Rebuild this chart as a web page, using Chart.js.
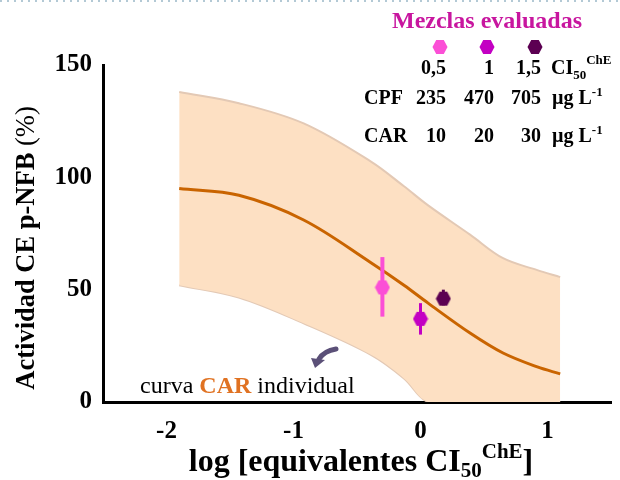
<!DOCTYPE html>
<html>
<head>
<meta charset="utf-8">
<script src="https://cdn.jsdelivr.net/npm/chart.js@4.4.1/dist/chart.umd.min.js"></script>
<style>
  body { margin: 0; background: #fff; }
  #wrap { width: 620px; height: 480px; }
</style>
</head>
<body>
<div id="wrap"><canvas id="chart"></canvas></div>
<script>
// Curva CAR individual (log equivalentes CI50) con banda de confianza
var bandX    = [-1.9, -1.43, -0.92, -0.39, -0.13, 0.06, 0.39, 0.65, 0.92, 1.1];
var curveCAR = [95, 92, 81, 62, 52, 44, 30.7, 21.8, 15.6, 12.5];
var upperCI  = [138, 133, 124, 107, 96, 87.5, 74.5, 64, 58.7, 55.6];
var lowerCI  = [52, 46.5, 35, 21, 10.5, 0, 0, 0, 0, 0];

// Mezclas evaluadas (0,5 / 1 / 1,5 CI50)
var mixLabels = ["0,5", "1", "1,5"];
var mixCPF    = ["235", "470", "705"];
var mixCAR    = ["10", "20", "30"];
var mixX      = [-0.30, 0.0, 0.18];
var mixY      = [51, 37, 46];
var mixErrLo  = [38, 30, 43];
var mixErrHi  = [64.5, 44, 50];
var mixColors = ["#fb4fd6", "#c300c3", "#5c0052"];

var xTicks = [-2, -1, 0, 1];
var yTicks = [0, 50, 100, 150];

var SERIF = '"Liberation Serif", "Times New Roman", serif';

function hexCanvas(color) {
  var c = document.createElement("canvas");
  c.width = 16; c.height = 16;
  var g = c.getContext("2d");
  g.fillStyle = color;
  g.beginPath();
  g.moveTo(0.5, 8); g.lineTo(4.2, 1); g.lineTo(11.8, 1);
  g.lineTo(15.5, 8); g.lineTo(11.8, 15); g.lineTo(4.2, 15);
  g.closePath();
  g.fill();
  return c;
}

function pts(xs, ys) {
  return xs.map(function (x, i) { return { x: x, y: ys[i] }; });
}

// draws a run of text pieces: [text, font, dy, color]
function richText(ctx, parts, x, y, align) {
  var total = 0;
  parts.forEach(function (p) { ctx.font = p[1]; total += ctx.measureText(p[0]).width; });
  var cx = align === "center" ? x - total / 2 : (align === "right" ? x - total : x);
  ctx.textAlign = "left";
  ctx.textBaseline = "alphabetic";
  parts.forEach(function (p) {
    ctx.font = p[1];
    ctx.fillStyle = p[3] || "#000";
    ctx.fillText(p[0], cx, y + (p[2] || 0));
    cx += ctx.measureText(p[0]).width;
  });
}

var datasets = [
  { data: pts(bandX, lowerCI), showLine: true, borderColor: "#e3c9b5", borderWidth: 2,
    pointRadius: 0, fill: false, tension: 0.35, order: 4 },
  { data: pts(bandX, upperCI), showLine: true, borderColor: "#e3c9b5", borderWidth: 2,
    backgroundColor: "#fde0c3", pointRadius: 0, fill: "-1", tension: 0.35, order: 3 },
  { data: pts(bandX, curveCAR), showLine: true, borderColor: "#c96400", borderWidth: 3,
    pointRadius: 0, fill: false, tension: 0.35, order: 2 }
];
mixX.forEach(function (x, i) {
  datasets.push({ data: [{ x: x, y: mixY[i] }], pointStyle: hexCanvas(mixColors[i]),
    pointRadius: 8, errIdx: i, order: 1 });
});

var errorBars = {
  id: "errorBars",
  beforeDatasetDraw: function (chart, args) {
    var ds = chart.data.datasets[args.index];
    if (ds.errIdx === undefined) return;
    var i = ds.errIdx;
    var ctx = chart.ctx, xs = chart.scales.x, ys = chart.scales.y;
    var px = xs.getPixelForValue(mixX[i]);
    ctx.save();
    ctx.strokeStyle = mixColors[i];
    ctx.lineWidth = i === 0 ? 4 : 3;
    ctx.beginPath();
    ctx.moveTo(px, ys.getPixelForValue(mixErrLo[i]));
    ctx.lineTo(px, ys.getPixelForValue(mixErrHi[i]));
    ctx.stroke();
    ctx.restore();
  }
};

var labels = {
  id: "labels",
  afterDraw: function (chart) {
    var ctx = chart.ctx;
    var B = "bold ";
    ctx.save();
    // dotted frame line at the top
    ctx.strokeStyle = "#9ab8c8";
    ctx.lineWidth = 1.5;
    ctx.setLineDash([2, 5]);
    ctx.beginPath(); ctx.moveTo(0, 1); ctx.lineTo(620, 1); ctx.stroke();
    ctx.setLineDash([]);
    // y title
    ctx.save();
    ctx.translate(34, 248);
    ctx.rotate(-Math.PI / 2);
    richText(ctx, [["Actividad CE p-NFB ", B + "26.5px " + SERIF], ["(%)", "26.5px " + SERIF]], 0, 0, "center");
    ctx.restore();
    // x title
    richText(ctx, [["log [equivalentes CI", B + "32px " + SERIF],
                   ["50", B + "21px " + SERIF, 6],
                   ["ChE", B + "21px " + SERIF, -13],
                   ["]", B + "32px " + SERIF]], 361, 471, "center");
    // legend
    richText(ctx, [["Mezclas evaluadas", B + "24px " + SERIF, 0, "#c8169f"]], 487, 28, "center");
    var hx = [440, 487, 535];
    hx.forEach(function (x, i) { ctx.drawImage(hexCanvas(mixColors[i]), x - 8, 39); });
    var colR = [446, 494, 541];
    var f18 = B + "20px " + SERIF, f12 = B + "13px " + SERIF;
    colR.forEach(function (x, i) {
      richText(ctx, [[mixLabels[i], f18]], x, 74, "right");
      richText(ctx, [[mixCPF[i], f18]], x, 104, "right");
      richText(ctx, [[mixCAR[i], f18]], x, 142, "right");
    });
    richText(ctx, [["CI", f18], ["50", f12, 5], ["ChE", f12, -10]], 551, 74, "left");
    richText(ctx, [["CPF", f18]], 364, 104, "left");
    richText(ctx, [["CAR", f18]], 364, 142, "left");
    richText(ctx, [["\u00b5g L", f18], ["-1", f12, -8]], 552, 104, "left");
    richText(ctx, [["\u00b5g L", f18], ["-1", f12, -8]], 552, 142, "left");
    // annotation
    richText(ctx, [["curva ", "24px " + SERIF], ["CAR", B + "24px " + SERIF, 0, "#e07222"],
                   [" individual", "24px " + SERIF]], 140, 393, "left");
    // arrow
    ctx.strokeStyle = "#5b5078";
    ctx.fillStyle = "#5b5078";
    ctx.lineWidth = 5;
    ctx.lineCap = "round";
    ctx.beginPath();
    ctx.moveTo(336, 349);
    ctx.quadraticCurveTo(324, 351, 319, 359);
    ctx.stroke();
    ctx.beginPath();
    ctx.moveTo(311, 358);
    ctx.lineTo(325, 360);
    ctx.lineTo(315, 368);
    ctx.closePath();
    ctx.fill();
    ctx.restore();
  }
};

new Chart(document.getElementById("chart").getContext("2d"), {
  type: "scatter",
  data: { datasets: datasets },
  plugins: [errorBars, labels],
  options: {
    responsive: true,
    maintainAspectRatio: false,
    animation: false,
    layout: { padding: { top: 65, right: 9, left: 0, bottom: 0 } },
    plugins: { legend: { display: false }, tooltip: { enabled: false } },
    scales: {
      x: {
        min: -2.5, max: 1.5,
        afterBuildTicks: function (s) { s.ticks = xTicks.map(function (v) { return { value: v }; }); },
        afterFit: function (s) { s.height = 78; },
        grid: { display: false, drawTicks: false },
        border: { color: "#000", width: 3 },
        ticks: { color: "#000", padding: 15, font: { family: SERIF, size: 25, weight: "bold" } }
      },
      y: {
        min: 0, max: 150,
        afterBuildTicks: function (s) { s.ticks = yTicks.map(function (v) { return { value: v }; }); },
        afterFit: function (s) { s.width = 103; },
        grid: { display: false, drawTicks: false },
        border: { color: "#000", width: 3 },
        ticks: { color: "#000", padding: 11, font: { family: SERIF, size: 25, weight: "bold" } }
      }
    }
  }
});
</script>
</body>
</html>
